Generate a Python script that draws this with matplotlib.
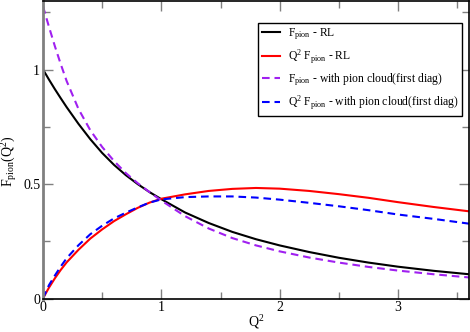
import matplotlib
matplotlib.use("Agg")
import matplotlib.pyplot as plt
from matplotlib.ticker import MultipleLocator

plt.rcParams['font.family'] = ['Liberation Serif', 'DejaVu Serif']
plt.rcParams['mathtext.fontset'] = 'custom'
plt.rcParams['mathtext.rm'] = 'Liberation Serif'
plt.rcParams['mathtext.it'] = 'Liberation Serif:italic'
plt.rcParams['mathtext.bf'] = 'Liberation Serif:bold'
plt.rcParams['lines.scale_dashes'] = False

# ---- data ----
q2 = [0.0, 0.025, 0.05, 0.1, 0.15, 0.2, 0.3, 0.4, 0.5, 0.6, 0.7, 0.8, 0.9, 1.0,
      1.2, 1.4, 1.6, 1.8, 2.0, 2.25, 2.5, 2.75, 3.0, 3.3, 3.6]

f_rl = [1.000, 0.979, 0.957, 0.915, 0.875, 0.836, 0.763, 0.696, 0.636, 0.584, 0.539,
        0.500, 0.465, 0.434, 0.376, 0.330, 0.291, 0.259, 0.232, 0.203, 0.178, 0.157,
        0.139, 0.121, 0.106]

q2f_rl = [0.000, 0.024, 0.047, 0.088, 0.125, 0.158, 0.213, 0.262, 0.302, 0.338, 0.368,
          0.396, 0.419, 0.436, 0.455, 0.470, 0.479, 0.483, 0.480, 0.470, 0.456, 0.440,
          0.421, 0.400, 0.381]

f_cloud = [1.277, 1.232, 1.188, 1.103, 1.024, 0.950, 0.828, 0.735, 0.662, 0.601, 0.548,
           0.504, 0.465, 0.428, 0.360, 0.306, 0.264, 0.232, 0.206, 0.179, 0.157, 0.138,
           0.122, 0.106, 0.092]

q2f_cloud = [0.000, 0.030, 0.058, 0.100, 0.140, 0.176, 0.233, 0.281, 0.318, 0.350, 0.375,
             0.398, 0.419, 0.433, 0.443, 0.446, 0.446, 0.441, 0.432, 0.418, 0.403, 0.386,
             0.367, 0.348, 0.327]

labels = [r'F$_{\rm pion}$ - RL',
          r'Q$^{\rm 2}$ F$_{\rm pion}$ - RL',
          r'F$_{\rm pion}$ - with pion cloud(first diag)',
          r'Q$^{\rm 2}$ F$_{\rm pion}$ - with pion cloud(first diag)']

fig = plt.figure(figsize=(4.70, 3.32), dpi=100)
ax = fig.add_axes([43/470, 1-298.5/332, 426/470, 297.5/332])

ax.plot(q2, f_rl, color='black', lw=1.5, label=labels[0])
ax.plot(q2, q2f_rl, color='#ff0000', lw=1.5, label=labels[1])
ax.plot(q2, f_cloud, color='#a020f0', lw=1.5, dashes=(5.5, 3.5), label=labels[2])
ax.plot(q2, q2f_cloud, color='#0000ff', lw=1.5, dashes=(5.5, 3.5), label=labels[3])

ax.set_xlim(0, 3.6)
ax.set_ylim(0, 1.3)
ax.xaxis.set_major_locator(MultipleLocator(1))
ax.xaxis.set_minor_locator(MultipleLocator(0.5))
ax.yaxis.set_major_locator(MultipleLocator(0.5))
ax.yaxis.set_minor_locator(MultipleLocator(0.25))
ax.xaxis.set_major_formatter(plt.FuncFormatter(lambda v, p: f"{v:g}"))
ax.yaxis.set_major_formatter(plt.FuncFormatter(lambda v, p: f"{v:g}"))

ax.tick_params(which='both', direction='in', top=True, right=True, color='#808080',
               labelsize=10, width=1.0, pad=2)
ax.tick_params(which='major', length=7)
ax.tick_params(which='minor', length=5)

for s in ['top', 'bottom', 'right']:
    ax.spines[s].set_color('black')
    ax.spines[s].set_linewidth(1.2)
ax.spines['left'].set_color('#808080')
ax.spines['left'].set_linewidth(2.0)

ax.set_xlabel(r'Q$^{\rm 2}$', fontsize=10)
ax.xaxis.set_label_coords(0.5, -0.05)
ax.set_ylabel(r'F$_{\rm pion}$(Q$^{\rm 2}$)', fontsize=10)
ax.yaxis.set_label_coords(-0.056, 0.46)

leg = ax.legend(loc='upper right', bbox_to_anchor=(0.984, 0.927), fontsize=8.4,
                frameon=True, fancybox=False, framealpha=1, edgecolor='black',
                handlelength=1.55, handletextpad=0.7, borderpad=0.32, labelspacing=0.47,
                borderaxespad=0)
leg.get_frame().set_linewidth(1.0)

fig.savefig('out.png', dpi=100)
